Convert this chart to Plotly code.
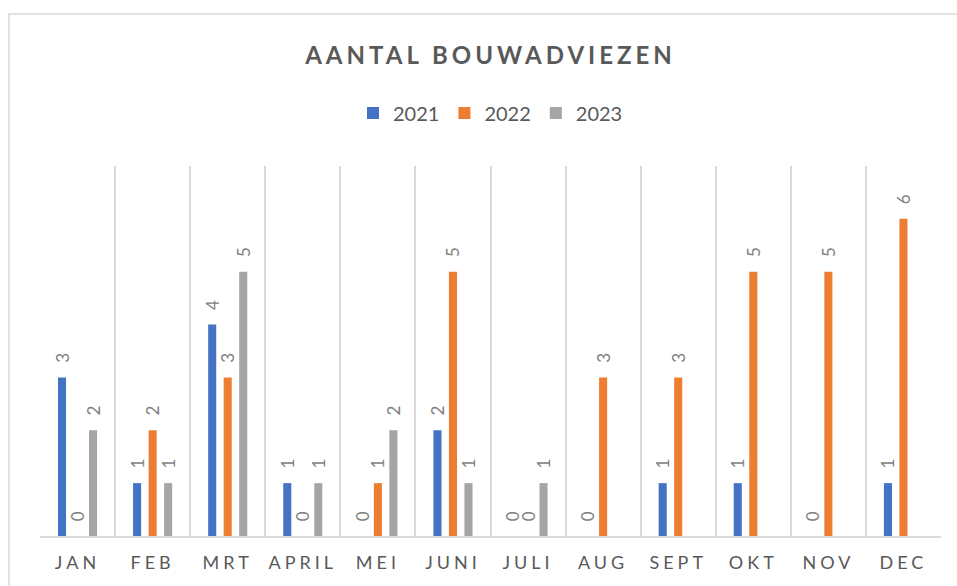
import plotly.graph_objects as go

# data
months = ["JAN", "FEB", "MRT", "APRIL", "MEI", "JUNI",
          "JULI", "AUG", "SEPT", "OKT", "NOV", "DEC"]
y2021 = [3, 1, 4, 1, 0, 2, 0, 0, 1, 1, 0, 1]
y2022 = [0, 2, 3, 0, 1, 5, 0, 3, 3, 5, 5, 6]
y2023 = [2, 1, 5, 1, 2, 1, 1, None, None, None, None, None]

series = [
    ("2021", y2021, "#4472C4"),
    ("2022", y2022, "#ED7D31"),
    ("2023", y2023, "#A5A5A5"),
]

GRID = "#D9D9D9"
TXT = "#595959"
FONT = "Lato, 'Open Sans', sans-serif"

fig = go.Figure()
for name, vals, col in series:
    fig.add_trace(go.Bar(
        x=months, y=vals, name=name,
        marker=dict(color=col, line=dict(width=0)),
        text=[None if v is None else str(v) for v in vals],
        texttemplate="\u2002\u2009\u200a%{text}",
        textposition="outside",
        textangle=-90,
        constraintext="none",
        cliponaxis=False,
        textfont=dict(family=FONT, size=17, color="#7F7F7F"),
    ))

fig.update_layout(
    width=957, height=586,
    margin=dict(l=40, r=16, t=166, b=50),
    paper_bgcolor="white", plot_bgcolor="white",
    barmode="group", bargap=0.38, bargroupgap=0.48,
    title=dict(text="<b>AANTAL BOUWADVIEZEN</b>", x=0.5, xref="paper", xanchor="center",
               y=1 - 56 / 586, yanchor="middle",
               font=dict(family=FONT, size=24, color=TXT)),
    legend=dict(orientation="h", x=0.5, xanchor="center", y=1.143, yanchor="middle",
                font=dict(family=FONT, size=20, color=TXT), traceorder="normal"),
    showlegend=True,
    shapes=[dict(type="rect", xref="paper", yref="paper",
                 x0=-0.0344, x1=1.03, y0=-0.2, y1=1.411,
                 line=dict(color=GRID, width=1.5), fillcolor="rgba(0,0,0,0)", layer="below")],
)
fig.update_xaxes(
    type="category", tickson="boundaries", showgrid=True, gridcolor=GRID, gridwidth=1.5,
    showline=True, linecolor=GRID, linewidth=1.5, ticks="", ticklen=0,
    ticklabelstandoff=10,
    tickfont=dict(family=FONT, size=18, color=TXT),
)
fig.update_yaxes(range=[0, 7], visible=False, showgrid=False, zeroline=False)

post = """
document.body.style.margin = '0';
var gd = document.getElementById('{plot_id}');
function spacing(){
  gd.querySelectorAll('.gtitle').forEach(function(e){ e.style.letterSpacing = '4px'; });
  gd.querySelectorAll('.xtick text').forEach(function(e){ e.style.letterSpacing = '4px'; });
}
spacing();
gd.on('plotly_afterplot', spacing);
"""

fig.write_html("out.html", post_script=post, config={"displayModeBar": False})
